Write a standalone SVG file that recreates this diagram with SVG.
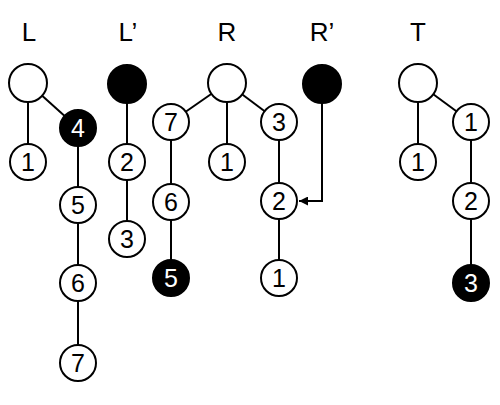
<svg xmlns="http://www.w3.org/2000/svg" width="500" height="405" viewBox="0 0 500 405">
<style>
.lbl{font-family:"Liberation Sans",Arial,sans-serif;font-size:26px;fill:#000;text-anchor:middle}
.n circle{fill:#fff;stroke:#000;stroke-width:2}
.b circle{fill:#000;stroke:#000;stroke-width:2}
.n text{font-family:"Liberation Sans",Arial,sans-serif;font-size:25px;fill:#000;text-anchor:middle}
.b text{font-family:"Liberation Sans",Arial,sans-serif;font-size:25px;fill:#fff;text-anchor:middle}
.e line,.e path{stroke:#000;stroke-width:2;fill:none}
</style>
<defs>
<marker id="ah" viewBox="0 0 10 10" refX="10" refY="5" markerWidth="5" markerHeight="4.5" orient="auto" markerUnits="strokeWidth">
<path d="M0,0 L10,5 L0,10 z" fill="#000"/>
</marker>
</defs>
<g id="labels">
<text class="lbl" x="29" y="41">L</text>
<text class="lbl" x="128" y="41">L’</text>
<text class="lbl" x="227" y="41">R</text>
<text class="lbl" x="322" y="41">R’</text>
<text class="lbl" x="418" y="41">T</text>
</g>
<g id="connectors" class="e">
<line x1="28" y1="83" x2="28" y2="162"/>
<line x1="28" y1="83" x2="78" y2="128"/>
<line x1="78" y1="128" x2="78" y2="363"/>
<line x1="127" y1="84" x2="127" y2="239"/>
<line x1="227" y1="83" x2="171" y2="122"/>
<line x1="227" y1="83" x2="227" y2="162"/>
<line x1="227" y1="83" x2="279" y2="122"/>
<line x1="171" y1="122" x2="171" y2="278"/>
<line x1="279" y1="122" x2="279" y2="278"/>
<path d="M322,84 L322,201 L299,201" marker-end="url(#ah)"/>
<line x1="418" y1="83" x2="418" y2="162"/>
<line x1="418" y1="83" x2="471" y2="122"/>
<line x1="471" y1="122" x2="471" y2="283"/>
</g>
<g id="L-root" class="n"><circle cx="28" cy="83" r="19"/></g>
<g id="L-1" class="n"><circle cx="28" cy="162" r="18"/><text x="28" y="171">1</text></g>
<g id="L-4" class="b"><circle cx="78" cy="128" r="18"/><text x="78" y="137">4</text></g>
<g id="L-5" class="n"><circle cx="78" cy="205" r="18"/><text x="78" y="214">5</text></g>
<g id="L-6" class="n"><circle cx="78" cy="283" r="18"/><text x="78" y="292">6</text></g>
<g id="L-7" class="n"><circle cx="78" cy="363" r="18"/><text x="78" y="372">7</text></g>
<g id="Lp-root" class="b"><circle cx="127" cy="84" r="19"/></g>
<g id="Lp-2" class="n"><circle cx="127" cy="162" r="18"/><text x="127" y="171">2</text></g>
<g id="Lp-3" class="n"><circle cx="127" cy="239" r="18"/><text x="127" y="248">3</text></g>
<g id="R-root" class="n"><circle cx="227" cy="83" r="19"/></g>
<g id="R-7" class="n"><circle cx="171" cy="122" r="18"/><text x="171" y="131">7</text></g>
<g id="R-1" class="n"><circle cx="227" cy="162" r="18"/><text x="227" y="171">1</text></g>
<g id="R-3" class="n"><circle cx="279" cy="122" r="18"/><text x="279" y="131">3</text></g>
<g id="R-6" class="n"><circle cx="171" cy="202" r="18"/><text x="171" y="211">6</text></g>
<g id="R-5" class="b"><circle cx="171" cy="278" r="18"/><text x="171" y="287">5</text></g>
<g id="R-2" class="n"><circle cx="279" cy="201" r="18"/><text x="279" y="210">2</text></g>
<g id="R-1b" class="n"><circle cx="279" cy="278" r="18"/><text x="279" y="287">1</text></g>
<g id="Rp-root" class="b"><circle cx="322" cy="84" r="19"/></g>
<g id="T-root" class="n"><circle cx="418" cy="83" r="19"/></g>
<g id="T-1" class="n"><circle cx="418" cy="162" r="18"/><text x="418" y="171">1</text></g>
<g id="T-1b" class="n"><circle cx="471" cy="122" r="18"/><text x="471" y="131">1</text></g>
<g id="T-2" class="n"><circle cx="471" cy="201" r="18"/><text x="471" y="210">2</text></g>
<g id="T-3" class="b"><circle cx="471" cy="283" r="18"/><text x="471" y="292">3</text></g>
</svg>
